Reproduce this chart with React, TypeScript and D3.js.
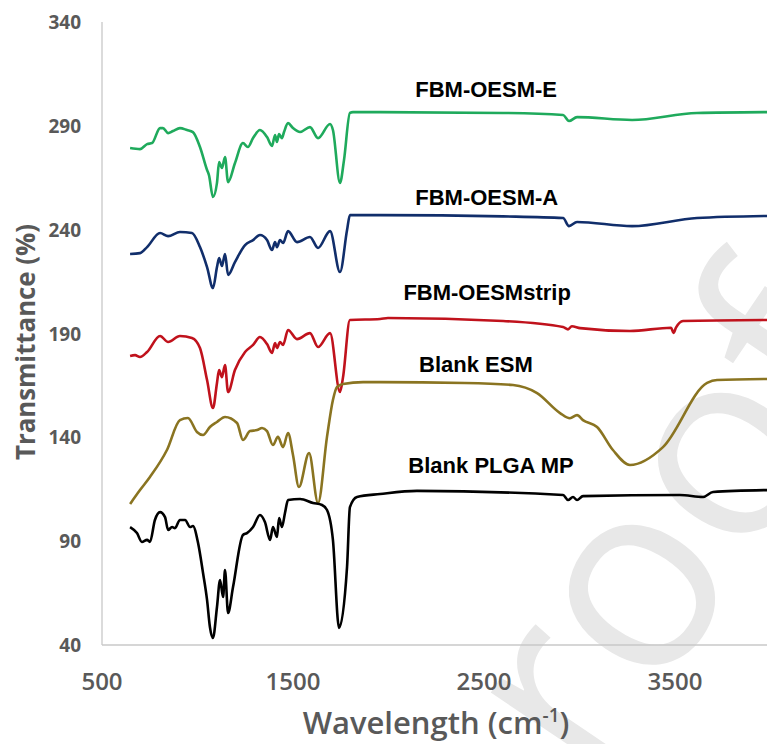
import React from 'react'
import { scaleLinear, line, curveMonotoneX } from 'd3'

// wavenumber (cm-1), transmittance (%)
const fbmOesmE: [number, number][] = [
  [647, 279.3], [699, 278.8], [736, 281.2], [762, 281.7], [804, 288.9], [819, 288.9], [846, 286.5],
  [872, 287.5], [908, 288.9], [945, 288], [976, 287], [1013, 279.8], [1050, 268.7], [1060, 266.3],
  [1081, 255.7], [1102, 262.5], [1113, 272.6], [1128, 269.7], [1144, 275], [1160, 262.9], [1196, 272],
  [1238, 281.7], [1264, 279.8], [1291, 284.1], [1327, 288], [1364, 284.6], [1390, 280.3], [1406, 285.6],
  [1416, 282.2], [1427, 286], [1442, 284.1], [1453, 287], [1474, 291.3], [1500, 288.9], [1537, 287],
  [1589, 289.4], [1631, 284.1], [1694, 290.9], [1709, 288], [1746, 262.5], [1767, 273.5], [1798, 296.2],
  [1814, 296.6], [1956, 296.6], [2600, 296.2], [2914, 295.2], [2945, 292.3], [2987, 294.2], [3275, 292.8],
  [3615, 296.2], [3982, 296.6],
]

const fbmOesmA: [number, number][] = [
  [647, 228.3], [699, 228.7], [736, 231.6], [804, 238.4], [846, 236.9], [908, 238.9], [971, 238.4],
  [1013, 231.6], [1050, 222], [1081, 211.9], [1102, 222], [1113, 226.3], [1128, 222.5], [1144, 228.3],
  [1160, 218.2], [1196, 224.4], [1249, 232.6], [1291, 235], [1327, 237.4], [1364, 235], [1390, 230.2],
  [1406, 234], [1416, 231.6], [1432, 235], [1448, 233.6], [1474, 239.3], [1521, 234], [1589, 236.5],
  [1631, 231.2], [1694, 239.3], [1746, 219.6], [1783, 239.8], [1798, 247], [1956, 247], [2600, 246.4],
  [2914, 245.6], [2945, 241.7], [2987, 243.7], [3275, 241.7], [3615, 245.6], [3982, 246.6],
]

const fbmOesmStrip: [number, number][] = [
  [647, 179.2], [673, 179.6], [699, 178.7], [736, 181.1], [804, 188.8], [846, 185.9], [908, 188.8],
  [971, 187.8], [1013, 183], [1050, 167.6], [1081, 154.1], [1102, 166.2], [1113, 172.4], [1128, 169],
  [1144, 174.8], [1160, 161.8], [1196, 172.4], [1249, 181.1], [1291, 184.5], [1327, 188.3], [1364, 184.9],
  [1390, 180.6], [1406, 185.4], [1416, 183], [1432, 185.9], [1448, 184.5], [1474, 191.7], [1521, 187.3],
  [1589, 190.2], [1631, 183.5], [1694, 190.2], [1746, 161.8], [1762, 169], [1798, 196.5], [1956, 197],
  [1997, 197.5], [2600, 196], [2914, 193.1], [2940, 192], [2960, 193.5], [3003, 192.6], [3264, 191.2],
  [3480, 192.8], [3492, 190.3], [3505, 192.8], [3542, 196], [3982, 196.5],
]

const blankEsm: [number, number][] = [
  [647, 107.9], [699, 114.6], [751, 120.9], [840, 133.9], [908, 148.3], [950, 149.3], [997, 142.6],
  [1029, 141.1], [1065, 145], [1102, 147.4], [1144, 149.8], [1207, 146.9], [1238, 138.7], [1275, 143],
  [1312, 143.5], [1338, 144.5], [1364, 143], [1395, 136.3], [1421, 140.2], [1448, 135.3], [1474, 142.1],
  [1500, 131.5], [1531, 116.1], [1584, 132.4], [1631, 108.4], [1678, 140.2], [1709, 158], [1730, 164.2],
  [1762, 165.7], [1867, 166.6], [1956, 166.6], [2400, 166.2], [2652, 165.2], [2778, 161.3],
  [2898, 151.7], [2950, 149.2], [2987, 150.7], [3018, 148.3], [3092, 145], [3175, 133.9], [3264, 126.7],
  [3437, 135.3], [3668, 166.2], [3720, 167.6], [3982, 168.1],
]

const blankPlgaMp: [number, number][] = [
  [647, 96.8], [683, 93.9], [709, 89.6], [736, 90.6], [751, 89.6], [777, 100.2], [804, 104], [830, 101.6],
  [846, 95.4], [867, 96.8], [882, 96.3], [908, 100.2], [935, 100.2], [961, 96.8], [976, 97.3], [1003, 89.1],
  [1029, 74.7], [1050, 61.7], [1065, 48.7], [1081, 43.4], [1102, 58.3], [1118, 71.3], [1134, 63.1],
  [1144, 76.1], [1160, 55.4], [1186, 67.9], [1238, 93], [1259, 93.9], [1291, 96.8], [1327, 102.6],
  [1353, 99.2], [1380, 90.6], [1395, 96.8], [1416, 92], [1427, 101.1], [1442, 96.8], [1458, 103.6],
  [1474, 109.8], [1537, 110.3], [1605, 108.4], [1652, 107.4], [1678, 105], [1709, 90.6], [1741, 48.2],
  [1783, 77.6], [1798, 106.4], [1835, 111.3], [1956, 112.7], [2149, 114.2], [2914, 112.2], [2940, 109.8],
  [2966, 111.3], [2987, 109.8], [3018, 111.7], [3526, 112.2], [3647, 111.3], [3699, 113.7], [3982, 114.6],
]

const seriesNames = ['FBM-OESM-E', 'FBM-OESM-A', 'FBM-OESMstrip', 'Blank ESM', 'Blank PLGA MP']
const seriesData = [fbmOesmE, fbmOesmA, fbmOesmStrip, blankEsm, blankPlgaMp]
const seriesColors = ['#1faa5c', '#112e6b', '#c0121c', '#8a7421', '#000000']
// label anchor in data units (left edge, baseline)
const labelX = [2140, 2140, 2078, 2160, 2104]
const labelY = [303.9, 251.9, 206.1, 171.4, 122.8]

const xTicks = [500, 1500, 2500, 3500]
const yTicks = [40, 90, 140, 190, 240, 290, 340]

const W = 767
const H = 744

const App = () => {
  const x = scaleLinear().domain([500, 4000]).range([102, 770.5])
  const y = scaleLinear().domain([40, 340]).range([645, 22])

  const path = line<[number, number]>()
    .x(d => x(d[0]))
    .y(d => y(d[1]))
    .curve(curveMonotoneX)

  const font = '"Open Sans", "DejaVu Sans", sans-serif'

  return (
    <svg width={W} height={H} viewBox={`0 0 ${W} ${H}`}
      style={{ position: 'absolute', left: 0, top: 0, background: '#fff' }}>
      <rect width={W} height={H} fill='#fff' />

      {/* watermark, mostly outside the crop */}
      <text x={0} y={0} transform='translate(505,925) rotate(-56)'
        fontFamily={font} fontWeight={500} fontSize={265} fill='#e8e8e8'>proof</text>

      <line x1={102} x2={102} y1={22} y2={645} stroke='#c8c8c8' strokeWidth={1.3} />
      <line x1={102} x2={W} y1={645} y2={645} stroke='#c8c8c8' strokeWidth={1.3} />

      {yTicks.map(t => (
        <text key={t} x={81} y={y(t) + 7} textAnchor='end' fontFamily={font}
          fontWeight={700} fontSize={19} fill='#595959'>{t}</text>
      ))}
      {xTicks.map(t => (
        <text key={t} x={x(t)} y={690} textAnchor='middle' fontFamily={font}
          fontWeight={600} fontSize={24} fill='#595959'>{t}</text>
      ))}

      <text transform='translate(35,342) rotate(-90)' textAnchor='middle' fontFamily={font}
        fontWeight={700} fontSize={27} fill='#595959' textLength={236}
        lengthAdjust='spacingAndGlyphs'>Transmittance (%)</text>
      <text x={436} y={734} textAnchor='middle' fontFamily={font}
        fontWeight={600} fontSize={31} fill='#595959'>
        Wavelength (cm<tspan dy={-12} fontSize={19}>-1</tspan><tspan dy={12}>)</tspan>
      </text>

      {seriesData.map((d, i) => (
        <path key={seriesNames[i]} d={path(d) || ''} fill='none'
          stroke={seriesColors[i]} strokeWidth={2.6} strokeLinejoin='round' />
      ))}

      {seriesNames.map((n, i) => (
        <text key={n} x={x(labelX[i])} y={y(labelY[i])} fontFamily='"Liberation Sans", Arial, sans-serif'
          fontWeight={700} fontSize={22} fill='#000'>{n}</text>
      ))}
    </svg>
  )
}

export default App
